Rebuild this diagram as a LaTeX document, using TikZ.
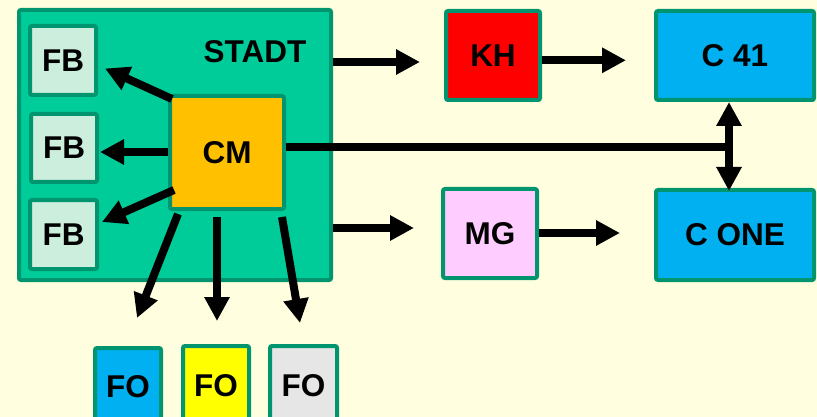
\documentclass[tikz,border=0pt]{standalone}
\usepackage{fontspec}
\setmainfont{Liberation Sans}
\usetikzlibrary{arrows.meta,calc}
\definecolor{bg}{HTML}{FFFFE0}
\definecolor{edge}{HTML}{00956E}
\definecolor{stadtfill}{HTML}{00CC99}
\definecolor{fbfill}{HTML}{CCEEDD}
\definecolor{cmfill}{HTML}{FFC000}
\definecolor{khfill}{HTML}{FF0000}
\definecolor{cyanfill}{HTML}{00B0F0}
\definecolor{mgfill}{HTML}{FFCCFF}
\definecolor{yelfill}{HTML}{FFFF00}
\definecolor{greyfill}{HTML}{E6E6E6}
\tikzset{
  box/.style={draw=edge, line width=4pt, rounded corners=2pt, inner sep=0pt,
    font=\bfseries\fontsize{31.5}{32}\selectfont, text=black},
  lbl/.style={inner sep=0pt, font=\bfseries\fontsize{31.5}{32}\selectfont, text=black},
  conn/.style={line width=8pt, draw=black},
  arr/.style={conn, -{Triangle[length=24pt,width=24pt]}},
  darr/.style={conn, {Triangle[length=24pt,width=24pt]}-{Triangle[length=24pt,width=24pt]}},
}
\begin{document}
\begin{tikzpicture}[x=1pt,y=-1pt]
\clip (0,0) rectangle (817,417);
\fill[bg] (0,0) rectangle (817,417);

% STADT container
\node[box, fill=stadtfill, minimum width=312pt, minimum height=270pt] (stadt) at (175,145) {};
\node[lbl] (stadttext) at (255,52) {STADT};

\node[box, fill=fbfill, minimum width=66pt, minimum height=69pt] (fb1) at (63,60.5) {FB};
\node[box, fill=fbfill, minimum width=66pt, minimum height=68pt] (fb2) at (64,148) {FB};
\node[box, fill=fbfill, minimum width=67pt, minimum height=69pt] (fb3) at (63.5,234.5) {FB};
\node[box, fill=cmfill, minimum width=114pt, minimum height=113pt] (cm) at (227,152.5) {CM};

\node[box, fill=khfill, minimum width=94pt, minimum height=89pt] (kh) at (493,55.5) {KH};
\node[box, fill=cyanfill, minimum width=158pt, minimum height=89pt] (c41) at (735,55.5) {C 41};
\node[box, fill=mgfill, minimum width=94pt, minimum height=89pt] (mg) at (490,233.5) {MG};
\node[box, fill=cyanfill, minimum width=158pt, minimum height=90pt] (cone) at (735,235) {C ONE};

\node[box, fill=cyanfill, minimum width=66pt, minimum height=78pt] (fo1) at (128,387) {FO};
\node[box, fill=yelfill, minimum width=66pt, minimum height=80pt] (fo2) at (216,386) {FO};
\node[box, fill=greyfill, minimum width=67pt, minimum height=80pt] (fo3) at (303.5,386) {FO};

% right-hand arrows
\draw[arr, shorten >=24pt] ($(stadt.east |- kh.west)+(0,6.5)$) -- ($(kh.west)+(0,6.5)$);
\draw[arr, shorten >=28pt] ($(kh.east)+(0,4.8)$) -- ($(c41.west)+(0,4.8)$);
\draw[arr, shorten >=27pt] ($(stadt.east |- mg.west)+(0,-5.5)$) -- ($(mg.west)+(0,-5.5)$);
\draw[arr, shorten >=34pt] ($(mg.east)+(0,-0.5)$) -- ($(cone.west)+(0,-2)$);

% CM bus to C 41 / C ONE
\coordinate (j) at (729,147.3);
\draw[conn] (cm.east |- j) -- ([xshift=4pt]j);
\draw[darr] (c41.south -| j) -- ($(cone.north -| j)+(0,3)$);

% CM to FB
\draw[arr] ($(cm.north west)+(4,5)$) -- ($(fb1.east)+(7,8)$);
\draw[arr] ($(cm.west)+(0,-0.5)$) -- ($(fb2.east)+(1,4)$);
\draw[arr] ($(cm.south west)+(6,-21)$) -- ($(fb3.east)+(3,-12.5)$);

% CM to FO
\draw[arr] ($(cm.south west)+(10,3)$) -- ($(fo1.north)+(9,-28)$);
\draw[arr] ($(cm.south)+(-10,6)$) -- ($(fo2.north)+(1,-23)$);
\draw[arr] ($(cm.south east)+(-4,6)$) -- ($(fo3.north)+(-3.5,-21)$);
\end{tikzpicture}
\end{document}
